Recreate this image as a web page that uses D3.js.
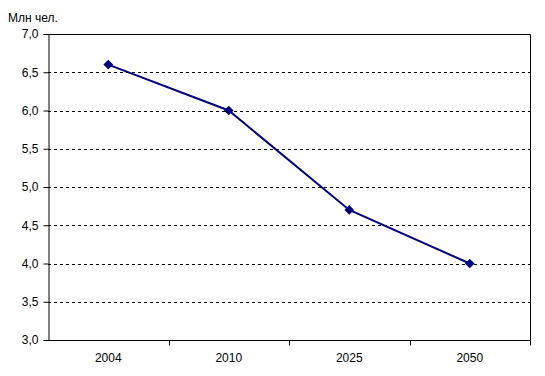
<!DOCTYPE html>
<html>
<head>
<meta charset="utf-8">
<script src="https://cdn.jsdelivr.net/npm/d3@7"></script>
<style>
  body { margin: 0; background: #fff; }
  text { font-family: Arial, "Liberation Sans", sans-serif; font-size: 12px; fill: #000; }
</style>
</head>
<body>
<div id="chart"></div>
<script>
// Data
var years = ["2004", "2010", "2025", "2050"];
var population = [6.6, 6.0, 4.7, 4.0];
var yTicks = [3.0, 3.5, 4.0, 4.5, 5.0, 5.5, 6.0, 6.5, 7.0];
var unitLabel = "Млн чел.";

var svgWidth = 545, svgHeight = 376;
var margins = {top: 34, right: 15, bottom: 36, left: 48};
var width = svgWidth - margins.left - margins.right;
var height = svgHeight - margins.top - margins.bottom;

var svg = d3.select("#chart")
  .append("svg")
    .attr("width", svgWidth)
    .attr("height", svgHeight)
  .append("g")
    .attr("transform", "translate(" + margins.left + "," + margins.top + ")");

// Scales
var x = d3.scaleBand().domain(years).range([0, width]);
var y = d3.scaleLinear().domain([3, 7]).range([height, 0]);
var fmt = function(d) { return d.toFixed(1).replace(".", ","); };
var font = "Arial, 'Liberation Sans', sans-serif";

// Dashed gridlines
svg.append("g")
  .selectAll("line")
  .data(yTicks.filter(function(d) { return d > 3 && d < 7; }))
  .join("line")
    .attr("x1", 0)
    .attr("x2", width)
    .attr("y1", function(d) { return Math.round(y(d)) + 0.5; })
    .attr("y2", function(d) { return Math.round(y(d)) + 0.5; })
    .attr("stroke", "#000")
    .attr("stroke-dasharray", "3,3");

// Plot border top and right
svg.append("path")
  .attr("d", "M0.5,0.5H" + (width + 0.5) + "V" + (height + 0.5))
  .attr("fill", "none")
  .attr("stroke", "#000");

// Y axis
var yAxis = svg.append("g")
  .attr("transform", "translate(0.5,0)")
  .call(d3.axisLeft(y).tickValues(yTicks).tickFormat(fmt).tickSize(5).tickPadding(5));
yAxis.selectAll("text").style("font-size", "12px").style("font-family", font);

// X axis with ticks between categories
var xAxis = svg.append("g")
  .attr("transform", "translate(0," + (height + 0.5) + ")")
  .call(d3.axisBottom(x).tickSize(0).tickPadding(13));
xAxis.selectAll("text").style("font-size", "12px").style("font-family", font);
xAxis.select(".domain").attr("d", "M0,0H" + (width + 0.5));
xAxis.selectAll(".sep")
  .data(d3.range(1, years.length + 1))
  .join("line")
    .attr("class", "sep")
    .attr("x1", function(i) { return Math.round(i * x.bandwidth()) + 0.5; })
    .attr("x2", function(i) { return Math.round(i * x.bandwidth()) + 0.5; })
    .attr("y1", 0)
    .attr("y2", 5)
    .attr("stroke", "#000");

// Line
var line = d3.line()
  .x(function(d, i) { return x(years[i]) + x.bandwidth() / 2; })
  .y(function(d) { return y(d); });

svg.append("path")
  .attr("d", line(population))
  .attr("fill", "none")
  .attr("stroke", "#000080")
  .attr("stroke-width", 2);

// Diamond markers
svg.selectAll(".marker")
  .data(population)
  .join("path")
    .attr("class", "marker")
    .attr("d", d3.symbol().type(d3.symbolDiamond2).size(60))
    .attr("transform", function(d, i) {
      return "translate(" + (x(years[i]) + x.bandwidth() / 2) + "," + y(d) + ")";
    })
    .attr("fill", "#000080");

// Unit label
d3.select("svg").append("text")
  .attr("x", 8)
  .attr("y", 22)
  .text(unitLabel);
</script>
</body>
</html>
